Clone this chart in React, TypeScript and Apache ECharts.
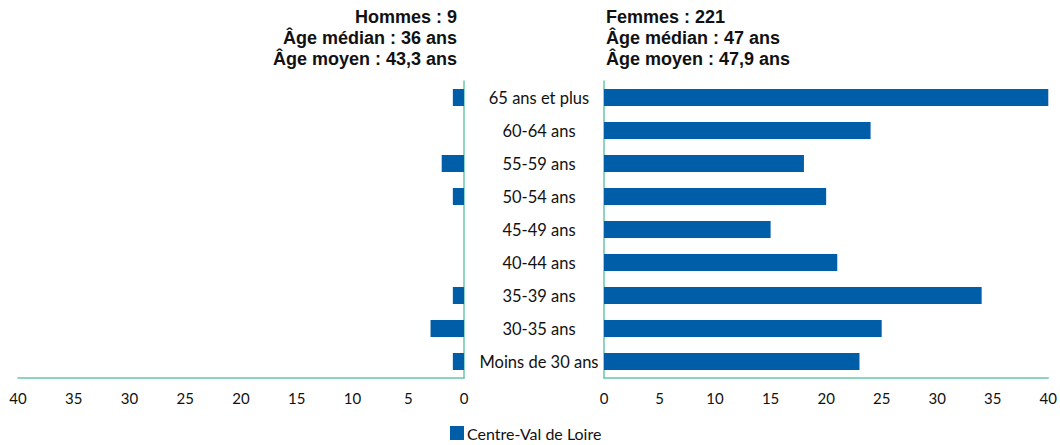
import React, { useEffect, useRef } from "react";
import * as echarts from "echarts";

const categories = [
  "Moins de 30 ans",
  "30-35 ans",
  "35-39 ans",
  "40-44 ans",
  "45-49 ans",
  "50-54 ans",
  "55-59 ans",
  "60-64 ans",
  "65 ans et plus",
];
const hommes = [1, 3, 1, 0, 0, 1, 2, 0, 1];
const femmes = [23, 25, 34, 21, 15, 20, 18, 24, 41];
const seriesName = "Centre-Val de Loire";
const titleHommes = ["Hommes : 9", "Âge médian : 36 ans", "Âge moyen : 43,3 ans"];
const titleFemmes = ["Femmes : 221", "Âge médian : 47 ans", "Âge moyen : 47,9 ans"];

const BAR = "#005da8";
const AXIS = "#66c7aa";
const LABEL_FONT = "Lato, 'Open Sans', sans-serif";

export default function App() {
  const ref = useRef<HTMLDivElement>(null);
  useEffect(() => {
    const chart = echarts.init(ref.current!, undefined, { renderer: "svg" });
    const xAxisCommon = {
      type: "value",
      min: 0,
      max: 40,
      interval: 5,
      axisLine: { show: true, lineStyle: { color: AXIS, width: 1.5 } },
      axisTick: { show: false },
      splitLine: { show: false },
      axisLabel: { color: "#111", fontSize: 15, fontFamily: LABEL_FONT, margin: 12 },
    };
    const titleStyle = {
      fontFamily: "'Liberation Sans', Arial, sans-serif",
      fontWeight: "bold",
      fontSize: 18,
      fill: "#111",
    };
    chart.setOption({
      animation: false,
      grid: [
        { left: 18, right: 596, top: 81, bottom: 67 },
        { left: 604, right: 10, top: 81, bottom: 67 },
      ],
      xAxis: [
        { ...xAxisCommon, gridIndex: 0, inverse: true },
        { ...xAxisCommon, gridIndex: 1 },
      ],
      yAxis: [
        {
          type: "category",
          gridIndex: 0,
          position: "right",
          data: categories,
          axisLine: { show: true, lineStyle: { color: AXIS, width: 1.5 } },
          axisTick: { show: false },
          axisLabel: { show: false },
        },
        {
          type: "category",
          gridIndex: 1,
          position: "left",
          data: categories,
          axisLine: { show: true, lineStyle: { color: AXIS, width: 1.5 } },
          axisTick: { show: false },
          axisLabel: {
            show: true,
            align: "center",
            margin: 65,
            color: "#111",
            fontSize: 16.5,
            fontFamily: LABEL_FONT,
          },
        },
      ],
      legend: {
        data: [seriesName],
        left: 450,
        top: 425,
        padding: 0,
        icon: "rect",
        itemWidth: 14,
        itemHeight: 14,
        itemGap: 10,
        textStyle: {
          color: "#111",
          fontSize: 16,
          lineHeight: 16,
          fontFamily: LABEL_FONT,
          padding: [0, 0, 0, -2],
        },
      },
      series: [
        {
          name: seriesName,
          type: "bar",
          xAxisIndex: 0,
          yAxisIndex: 0,
          data: hommes,
          barWidth: 17,
          itemStyle: { color: BAR },
        },
        {
          name: seriesName,
          type: "bar",
          xAxisIndex: 1,
          yAxisIndex: 1,
          data: femmes,
          barWidth: 17,
          clip: true,
          itemStyle: { color: BAR },
        },
      ],
      graphic: [
        ...titleHommes.map((t, i) => ({
          type: "text",
          x: 457,
          y: 8 + i * 21,
          style: { ...titleStyle, text: t, textAlign: "right" },
        })),
        ...titleFemmes.map((t, i) => ({
          type: "text",
          x: 606,
          y: 8 + i * 21,
          style: { ...titleStyle, text: t, textAlign: "left" },
        })),
      ],
    });
    return () => chart.dispose();
  }, []);
  return (
    <div
      ref={ref}
      style={{ position: "fixed", left: 0, top: 0, width: 1060, height: 445, background: "#fff" }}
    />
  );
}
